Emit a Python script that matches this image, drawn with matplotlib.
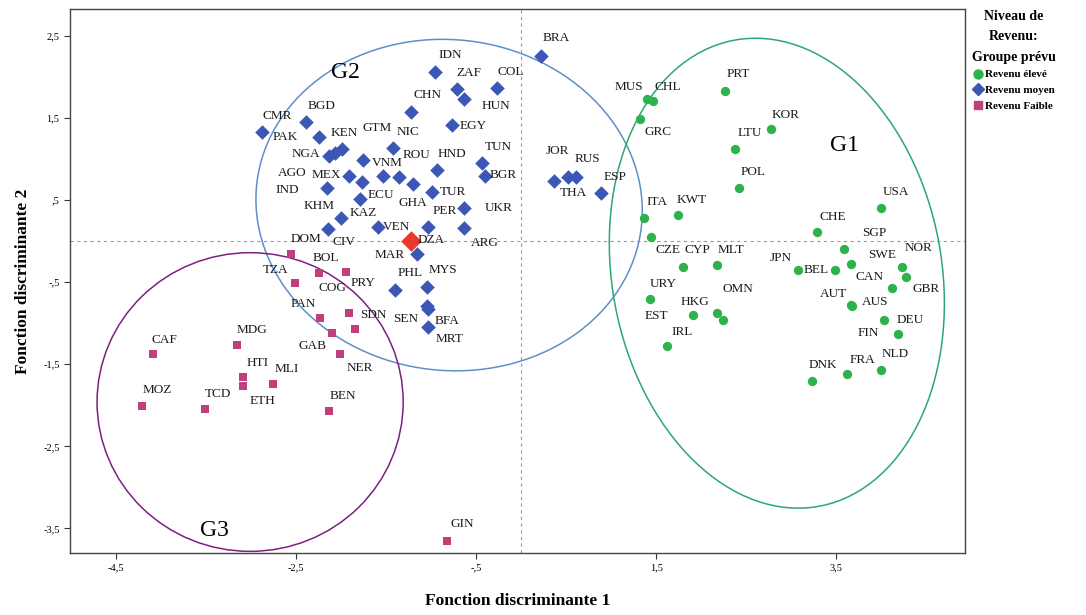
import matplotlib.pyplot as plt
from matplotlib.patches import Ellipse
from matplotlib.lines import Line2D

# ---- data (discriminant scores) ----
high_codes = ['MUS', 'CHL', 'GRC', 'PRT', 'KOR', 'LTU', 'POL', 'ITA', 'KWT', 'CZE', 'CYP',
              'MLT', 'URY', 'EST', 'HKG', 'OMN', 'IRL', 'JPN', 'BEL', 'CHE', 'USA', 'SGP',
              'SWE', 'NOR', 'GBR', 'CAN', 'AUS', 'AUT', 'DEU', 'FIN', 'NLD', 'FRA', 'DNK']
high_f1 = [1.40, 1.46, 1.32, 2.26, 2.78, 2.38, 2.42, 1.36, 1.74, 1.44, 1.80,
           2.17, 1.43, 2.24, 1.91, 2.17, 1.62, 3.07, 3.49, 3.29, 4.00, 3.59,
           3.66, 4.23, 4.27, 4.12, 3.68, 3.66, 4.03, 4.19, 4.00, 3.62, 3.23]
high_f2 = [1.73, 1.71, 1.49, 1.83, 1.37, 1.12, 0.65, 0.28, 0.32, 0.05, -0.32,
           -0.29, -0.71, -0.96, -0.90, -0.88, -1.28, -0.35, -0.35, 0.11, 0.41, -0.09,
           -0.28, -0.32, -0.44, -0.57, -0.79, -0.78, -0.96, -1.13, -1.57, -1.62, -1.70]

mid_codes = ['IDN', 'ZAF', 'HUN', 'COL', 'CHN', 'EGY', 'CMR', 'BGD', 'PAK', 'KEN', 'NGA',
             'AGO', 'GTM', 'NIC', 'VNM', 'ROU', 'HND', 'TUN', 'BGR', 'MEX', 'KHM', 'IND',
             'ECU', 'GHA', 'TUR', 'UKR', 'KAZ', 'CIV', 'VEN', 'PER', 'ARG', 'DZA', 'PHL',
             'MYS', 'SEN', 'BFA', 'MRT', 'BRA', 'JOR', 'THA', 'RUS', 'ESP']
mid_f1 = [-0.96, -0.71, -0.63, -0.27, -1.22, -0.77, -2.88, -2.39, -2.24, -1.99, -2.13,
          -2.07, -1.76, -1.42, -1.53, -1.36, -0.93, -0.43, -0.40, -1.91, -1.77, -2.16,
          -1.79, -1.20, -0.99, -0.64, -2.00, -2.14, -1.59, -1.03, -0.64, -1.16, -1.40,
          -1.04, -1.04, -1.03, -1.03, 0.22, 0.37, 0.52, 0.61, 0.89]
mid_f2 = [2.06, 1.85, 1.73, 1.87, 1.57, 1.41, 1.33, 1.45, 1.27, 1.12, 1.04,
          1.07, 0.99, 1.13, 0.79, 0.78, 0.87, 0.95, 0.80, 0.80, 0.72, 0.65,
          0.51, 0.70, 0.60, 0.41, 0.28, 0.15, 0.17, 0.17, 0.16, -0.15, -0.60,
          -0.56, -0.79, -0.83, -1.05, 2.26, 0.73, 0.78, 0.78, 0.59]

low_codes = ['DOM', 'TZA', 'BOL', 'PRY', 'PAN', 'SDN', 'COG', 'GAB', 'NER', 'MDG', 'CAF',
             'HTI', 'ETH', 'MLI', 'MOZ', 'TCD', 'BEN', 'GIN']
low_f1 = [-2.56, -2.51, -2.24, -1.94, -2.23, -1.91, -1.84, -2.10, -2.01, -3.16, -4.09,
          -3.09, -3.09, -2.76, -4.21, -3.51, -2.13, -0.82]
low_f2 = [-0.15, -0.51, -0.39, -0.38, -0.93, -0.88, -1.07, -1.12, -1.37, -1.26, -1.38,
          -1.66, -1.76, -1.74, -2.01, -2.04, -2.07, -3.65]

mar_f1, mar_f2 = -1.22, 0.00

# label offsets (pixels) from each point
label_off = {
    'MUS': (-18, 12), 'CHL': (15, 14), 'GRC': (18, -13), 'PRT': (14, 17), 'KOR': (14, 14),
    'LTU': (14, 16), 'POL': (14, 16), 'ITA': (13, 16), 'KWT': (14, 15), 'CZE': (17, -13),
    'CYP': (14, 17), 'MLT': (14, 15), 'URY': (13, 15), 'EST': (-66, 4), 'HKG': (2, 13),
    'OMN': (21, 24), 'IRL': (15, 14), 'JPN': (-17, 12), 'BEL': (-19, 0), 'CHE': (15, 15),
    'USA': (15, 16), 'SGP': (30, 16), 'SWE': (31, 9), 'NOR': (16, 19), 'GBR': (20, -12),
    'CAN': (-23, 11), 'AUS': (23, 4), 'AUT': (-17, 11), 'DEU': (26, 0), 'FIN': (-30, 1),
    'NLD': (14, 16), 'FRA': (15, 14), 'DNK': (11, 16),
    'IDN': (16, 17), 'ZAF': (12, 16), 'HUN': (32, -7), 'COL': (14, 16), 'CHN': (16, 17),
    'EGY': (21, -1), 'CMR': (15, 16), 'BGD': (16, 16), 'PAK': (-34, 0), 'KEN': (2, 16),
    'NGA': (-23, 2), 'AGO': (-43, -20), 'GTM': (14, 32), 'NIC': (15, 16), 'VNM': (4, 13),
    'ROU': (18, 22), 'HND': (15, 16), 'TUN': (16, 16), 'BGR': (18, 1), 'MEX': (-23, 1),
    'KHM': (-43, -24), 'IND': (-39, -2), 'ECU': (21, 4), 'GHA': (0, -19), 'TUR': (21, 0),
    'UKR': (35, 0), 'KAZ': (22, 5), 'CIV': (16, -13), 'VEN': (18, 0), 'PER': (16, 16),
    'ARG': (21, -15), 'DZA': (14, 14), 'PHL': (15, 17), 'MYS': (15, 17), 'SEN': (-22, -13),
    'BFA': (19, -12), 'MRT': (21, -12), 'BRA': (15, 18), 'JOR': (3, 30), 'THA': (5, -16),
    'RUS': (11, 18), 'ESP': (14, 16), 'MAR': (-22, -14),
    'DOM': (15, 15), 'TZA': (-20, 13), 'BOL': (6, 15), 'PRY': (17, -11), 'PAN': (-17, 14),
    'SDN': (24, -2), 'COG': (-23, 41), 'GAB': (-20, -13), 'NER': (20, -14), 'MDG': (15, 15),
    'CAF': (12, 14), 'HTI': (15, 14), 'ETH': (20, -15), 'MLI': (14, 15), 'MOZ': (15, 16),
    'TCD': (13, 15), 'BEN': (14, 15), 'GIN': (15, 17),
}

x_ticks = [-4.5, -2.5, -0.5, 1.5, 3.5]
x_ticklabels = ['-4,5', '-2,5', '-,5', '1,5', '3,5']
y_ticks = [2.5, 1.5, 0.5, -0.5, -1.5, -2.5, -3.5]
y_ticklabels = ['2,5', '1,5', ',5', '-,5', '-1,5', '-2,5', '-3,5']

green = '#2db24c'
blue = '#3b56b4'
pink = '#c1407b'
red = '#e8392b'
serif = 'Liberation Serif'

fig = plt.figure(figsize=(10.86, 6.15), dpi=100)
ax = fig.add_axes([0.0645, 0.1008, 0.8241, 0.8846])

ax.axhline(0, color='#9a9a9a', lw=0.8, ls=(0, (3, 3)), zorder=1)
ax.axvline(0, color='#9a9a9a', lw=0.8, ls=(0, (3, 3)), zorder=1)

# group ellipses
ax.add_patch(Ellipse((-0.80, 0.44), 4.31, 4.02, angle=-15, fill=False,
                     ec='#5f8fc8', lw=1.1, zorder=2))
ax.add_patch(Ellipse((2.84, -0.39), 3.67, 5.76, angle=8, fill=False,
                     ec='#2ca870', lw=1.1, zorder=2))
ax.add_patch(Ellipse((-3.01, -1.96), 3.40, 3.64, angle=0, fill=False,
                     ec='#7d1f82', lw=1.1, zorder=2))

ax.scatter(high_f1, high_f2, s=45, marker='o', color=green, zorder=3, lw=0)
ax.scatter(mid_f1, mid_f2, s=55, marker='D', color=blue, zorder=3, lw=0)
ax.scatter(low_f1, low_f2, s=34, marker='s', color=pink, zorder=3, lw=0)
ax.scatter([mar_f1], [mar_f2], s=110, marker='D', color=red, zorder=4, lw=0)

for codes, xs, ys in [(high_codes, high_f1, high_f2), (mid_codes, mid_f1, mid_f2),
                      (low_codes, low_f1, low_f2), (['MAR'], [mar_f1], [mar_f2])]:
    for c, xv, yv in zip(codes, xs, ys):
        dx, dy = label_off[c]
        ax.annotate(c, (xv, yv), xytext=(dx, dy), textcoords='offset pixels',
                    ha='center', va='center', fontsize=9.5, family=serif,
                    color='#1a1a1a', zorder=5)

ax.text(-1.95, 2.05, 'G2', fontsize=17, family=serif, ha='center', va='center')
ax.text(3.59, 1.17, 'G1', fontsize=17, family=serif, ha='center', va='center')
ax.text(-3.41, -3.52, 'G3', fontsize=17, family=serif, ha='center', va='center')

ax.set_xlim(-5.01, 4.93)
ax.set_ylim(-3.80, 2.83)
ax.set_xticks(x_ticks)
ax.set_xticklabels(x_ticklabels)
ax.set_yticks(y_ticks)
ax.set_yticklabels(y_ticklabels)
ax.tick_params(direction='out', length=4, width=0.8, labelsize=7.5, color='#333333')
for lab in ax.get_xticklabels() + ax.get_yticklabels():
    lab.set_family(serif)
for sp in ax.spines.values():
    sp.set_color('#444444')
    sp.set_linewidth(1.0)

ax.set_xlabel('Fonction discriminante 1', family=serif, fontsize=12.5, fontweight='bold',
              labelpad=15)
ax.set_ylabel('Fonction discriminante 2', family=serif, fontsize=12.5, fontweight='bold',
              labelpad=9)

handles = [
    Line2D([], [], marker='o', ls='', color=green, markersize=6.5, label='Revenu élevé'),
    Line2D([], [], marker='D', ls='', color=blue, markersize=6, label='Revenu moyen'),
    Line2D([], [], marker='s', ls='', color=pink, markersize=5.5, label='Revenu Faible'),
]
leg = fig.legend(handles=handles, loc='upper left', bbox_to_anchor=(0.893, 0.988),
                 frameon=False, title='Niveau de\nRevenu:\nGroupe prévu',
                 prop={'family': serif, 'weight': 'bold', 'size': 8},
                 title_fontproperties={'family': serif, 'weight': 'bold', 'size': 10},
                 handletextpad=0.2, handlelength=0.9, labelspacing=0.55, borderaxespad=0,
                 borderpad=0.2)
leg.get_title().set_multialignment('center')
leg.get_title().set_linespacing(1.75)

fig.savefig('out.png', dpi=100)
